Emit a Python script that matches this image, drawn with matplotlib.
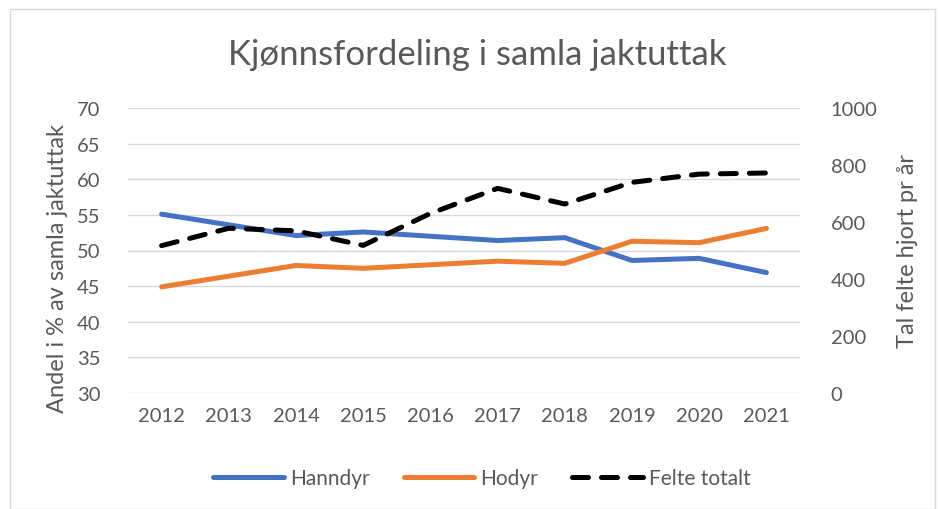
import matplotlib
matplotlib.use("Agg")
import matplotlib.pyplot as plt
from matplotlib.patches import Rectangle

years = ["2012", "2013", "2014", "2015", "2016", "2017", "2018", "2019", "2020", "2021"]
hanndyr = [55.1, 53.6, 52.1, 52.6, 52.0, 51.4, 51.8, 48.6, 48.9, 46.9]
hodyr = [44.9, 46.4, 47.9, 47.5, 48.0, 48.5, 48.2, 51.3, 51.1, 53.1]
felte_totalt = [517, 578, 569, 518, 630, 718, 663, 739, 768, 772]

plt.rcParams['font.family'] = ['Lato', 'DejaVu Sans']
grey = "#595959"

fig = plt.figure(figsize=(9.39, 5.10), dpi=100)
ax = fig.add_axes([128/939, 1-394/510, (800-128)/939, (394-109)/510])
ax2 = ax.twinx()

x = list(range(len(years)))
ax.plot(x, hanndyr, color="#4472C4", lw=3.6, solid_capstyle="round", label="Hanndyr", zorder=3)
ax.plot(x, hodyr, color="#ED7D31", lw=3.6, solid_capstyle="round", label="Hodyr", zorder=3)
ax2.plot(x, felte_totalt, color="black", lw=3.6, ls=(0, (3.2, 2.6)), dash_capstyle="round",
         label="Felte totalt", zorder=3)

ax.set_xlim(-0.5, len(years) - 0.5)
ax.set_ylim(30, 70)
ax.set_yticks(range(30, 71, 5))
ax2.set_ylim(0, 1000)
ax2.set_yticks(range(0, 1001, 200))
ax.set_xticks(x)
ax.set_xticklabels(years)

ax.grid(axis="y", color="#D9D9D9", lw=1.0)
ax.set_axisbelow(True)
for a in (ax, ax2):
    for s in a.spines.values():
        s.set_visible(False)
    a.tick_params(length=0, labelsize=14.5, colors=grey)
ax.tick_params(axis="y", pad=20)
ax2.tick_params(axis="y", pad=22)
ax.tick_params(axis="x", pad=10)

ax.set_ylabel("Andel i % av samla jaktuttak", fontsize=17, color=grey)
ax.yaxis.set_label_coords(-0.09, 0.44)
ax2.set_ylabel("Tal felte hjort pr år", fontsize=17, color=grey)
ax2.yaxis.set_label_coords(1.145, 0.5)

fig.text(0.508, 1-55/510, "Kjønnsfordeling i samla jaktuttak", ha="center", va="center",
         fontsize=25, color=grey)

h1, l1 = ax.get_legend_handles_labels()
h2, l2 = ax2.get_legend_handles_labels()
fig.legend(h1 + h2, l1 + l2, loc="center", bbox_to_anchor=(482/939, 1-479/510), ncol=3,
           frameon=False, fontsize=15, labelcolor=grey, handlelength=3.4, columnspacing=1.6,
           handletextpad=0.3)

fig.patches.append(Rectangle((10/939, 0), 925/939, 1-10/510, transform=fig.transFigure,
                             fill=False, edgecolor="#D9D9D9", lw=1))

fig.savefig("out.png", dpi=100)
